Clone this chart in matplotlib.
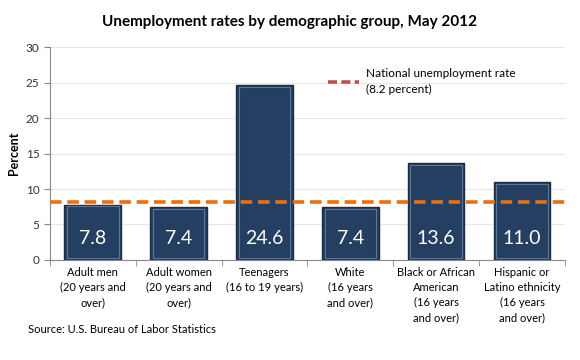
import numpy as np
import matplotlib
import matplotlib.pyplot as plt
from matplotlib.lines import Line2D

plt.rcParams['font.family'] = ['Lato', 'DejaVu Sans']

groups = ['Adult men\n(20 years and\nover)',
          'Adult women\n(20 years and\nover)',
          'Teenagers\n(16 to 19 years)',
          'White\n(16 years\nand over)',
          'Black or African\nAmerican\n(16 years\nand over)',
          'Hispanic or\nLatino ethnicity\n(16 years\nand over)']
rates = [7.8, 7.4, 24.6, 7.4, 13.6, 11.0]
national_rate = 8.2
yticks = [0, 5, 10, 15, 20, 25, 30]

fig = plt.figure(figsize=(5.8, 3.6), dpi=100)
ax = fig.add_axes([0.086, 0.278, 0.888, 0.591])

x = np.arange(len(groups))
ax.bar(x, rates, width=0.66, color='#243F62', edgecolor='#1A2E48',
       linewidth=1.0, zorder=3)
ax.bar(x, [r - 0.5 for r in rates], bottom=0.25, width=0.6, color='none',
       edgecolor='#5D7596', linewidth=0.8, zorder=3)
for xi, r in zip(x, rates):
    ax.text(xi, 3.0, f'{r:.1f}', color='white', ha='center', va='center',
            fontsize=14, zorder=4)

ax.axhline(national_rate, color='#E8700E', linestyle=(0, (3.2, 1.6)),
           linewidth=2.6, zorder=5)

ax.set_xlim(-0.5, len(groups) - 0.5)
ax.set_ylim(0, 30)
ax.set_yticks(yticks)
ax.tick_params(axis='y', labelsize=8.5, colors='#333333', length=4,
               color='#888888')
ax.set_xticks(x)
ax.set_xticklabels(groups, fontsize=8, linespacing=1.45)
ax.set_xticks(np.arange(len(groups) + 1) - 0.5, minor=True)
ax.tick_params(axis='x', which='major', length=0, pad=5)
ax.tick_params(axis='x', which='minor', length=4, color='#888888')
ax.grid(axis='y', color='#E6E6E6', linewidth=0.8, zorder=0)
for s in ['top', 'right']:
    ax.spines[s].set_visible(False)
ax.spines['left'].set_color('#888888')
ax.spines['bottom'].set_color('#888888')

ax.set_ylabel('Percent', fontsize=9, fontweight='bold', labelpad=4)

handle = Line2D([], [], color='#C0504D', linestyle=(0, (2.5, 1.2)),
                linewidth=2.6)
leg = ax.legend([handle], ['National unemployment rate\n(8.2 percent)'],
                loc='upper left', bbox_to_anchor=(0.52, 0.95), frameon=False,
                fontsize=8.5, handlelength=2.6, handletextpad=0.6)
for t in leg.get_texts():
    t.set_linespacing(1.5)

fig.text(0.5, 0.94, 'Unemployment rates by demographic group, May 2012',
         ha='center', va='center', fontsize=11, fontweight='bold')
fig.text(0.048, 0.085, 'Source: U.S. Bureau of Labor Statistics',
         ha='left', va='center', fontsize=8)

plt.savefig('out.png', dpi=100)
plt.close()
